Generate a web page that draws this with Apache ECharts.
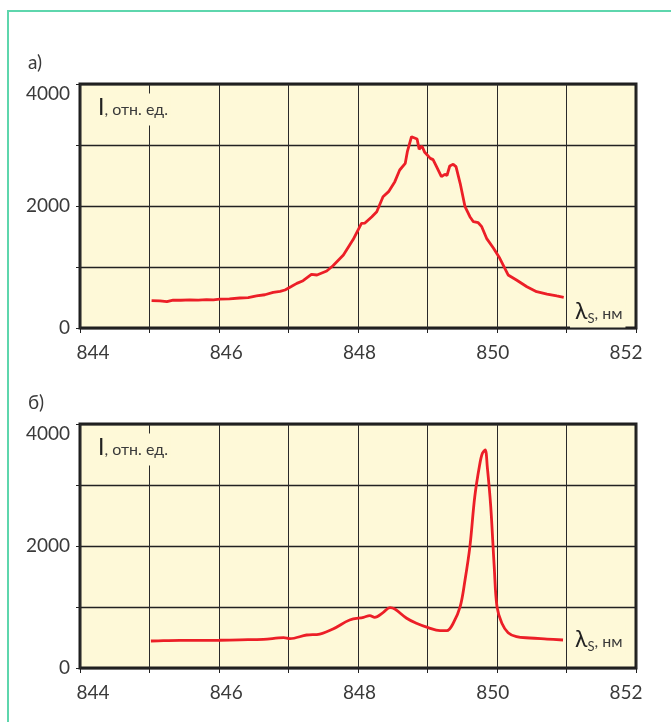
<!DOCTYPE html>
<html>
<head>
<meta charset="utf-8">
<script src="https://cdn.jsdelivr.net/npm/echarts@6/dist/echarts.min.js"></script>
<style>
  html, body { margin: 0; padding: 0; background: #ffffff; }
  #frame { position: absolute; left: 7px; top: 10px; width: 664px; height: 712px;
           border-left: 2px solid #5ed6ad; border-top: 2px solid #5ed6ad; }
  #chart { position: absolute; left: 0; top: 0; width: 671px; height: 722px; }
</style>
</head>
<body>
<div id="frame"></div>
<div id="chart"></div>
<script>
// ---- data: panel a ----
const lambdaA = [845.03, 845.15, 845.25, 845.34, 845.45, 845.58, 845.70, 845.82, 845.92, 846.01,
  846.15, 846.30, 846.42, 846.54, 846.66, 846.78, 846.88, 846.95, 847.04, 847.12,
  847.21, 847.33, 847.41, 847.55, 847.64, 847.79, 847.93, 848.05, 848.10, 848.20,
  848.27, 848.36, 848.44, 848.53, 848.60, 848.68, 848.71, 848.77, 848.85, 848.88,
  848.92, 848.96, 849.04, 849.08, 849.13, 849.20, 849.25, 849.28, 849.32, 849.37,
  849.41, 849.47, 849.54, 849.61, 849.66, 849.73, 849.78, 849.85, 849.95, 850.04,
  850.16, 850.28, 850.43, 850.57, 850.72, 850.86, 850.96];
const intensityA = [450, 445, 432, 458, 455, 462, 458, 465, 462, 472,
  478, 492, 498, 525, 545, 585, 600, 623, 680, 732,
  775, 880, 869, 934, 1020, 1197, 1450, 1716, 1720, 1825,
  1907, 2153, 2235, 2399, 2590, 2700, 2890, 3136, 3098, 2929,
  2984, 2880, 2781, 2760, 2645, 2480, 2520, 2500, 2656, 2683,
  2645, 2372, 1989, 1825, 1743, 1726, 1661, 1470, 1307, 1143,
  869, 787, 677, 595, 557, 525, 503];

// ---- data: panel b ----
const lambdaB = [845.02, 845.20, 845.44, 845.70, 846.01, 846.30, 846.64, 846.93, 847.02, 847.26,
  847.45, 847.64, 847.88, 848.08, 848.17, 848.24, 848.36, 848.46, 848.53, 848.70,
  848.84, 849.01, 849.18, 849.28, 849.37, 849.47, 849.54, 849.61, 849.68, 849.75,
  849.79, 849.83, 849.86, 849.91, 849.96, 850.00, 850.07, 850.16, 850.28, 850.47,
  850.72, 850.95];
const intensityB = [443, 450, 454, 452, 455, 462, 470, 497, 481, 541,
  557, 639, 787, 831, 858, 831, 907, 990, 967, 815,
  733, 661, 612, 612, 733, 1005, 1443, 1989, 2808, 3328,
  3519, 3574, 3300, 2645, 1661, 1005, 733, 579, 513, 492,
  475, 459];

// ---- axes / labels ----
const xTickLabels = [844, 846, 848, 850, 852];
const yTickLabels = [0, 2000, 4000];
const panelLabels = ['а)', 'б)'];
const yAxisTitle = ['I', ', отн. ед.'];
const xAxisTitle = ['λ', 'S', ', нм'];

const FONT = 'Lato, "Open Sans", sans-serif';
const FW = 'normal';
const TXT = '#3a3a3a';
const BG = '#fef9d8';
const RED = '#ec1f27';

const chart = echarts.init(document.getElementById('chart'), null, { renderer: 'canvas' });

const tops = [84, 424];

function grid(top) {
  return { left: 80, top: top, width: 556, height: 244, show: true,
           backgroundColor: BG, borderColor: '#1e1e1e', borderWidth: 3, z: 0 };
}
function plain(v) { return String(v); }

const xAxes = [], yAxes = [], series = [], titles = [];
[0, 1].forEach(function (g) {
  xAxes.push({
    type: 'value', gridIndex: g, position: 'bottom', min: 844, max: 852, interval: 1,
    axisLine: { show: false },
    axisTick: { show: true, length: 5, lineStyle: { color: '#222', width: 1 } },
    axisLabel: { show: false },
    splitLine: { show: true, lineStyle: { color: '#2a2a2a', width: 1 } }
  });
  xAxes.push({
    type: 'value', gridIndex: g, position: 'bottom', offset: 0, min: 843.805, max: 852.15,
    axisLine: { show: false, onZero: false }, axisTick: { show: false }, splitLine: { show: false },
    axisLabel: { show: true, customValues: xTickLabels, margin: 15, formatter: plain,
                 color: TXT, fontSize: 19, fontWeight: FW, fontFamily: FONT }
  });
  yAxes.push({
    type: 'value', gridIndex: g, min: 0, max: 4000, interval: 1000,
    axisLine: { show: false },
    axisTick: { show: true, length: 4, lineStyle: { color: '#222', width: 1 } },
    splitLine: { show: true, lineStyle: { color: '#222', width: 1.4 } },
    axisLabel: { show: true, customValues: yTickLabels, margin: 10, color: TXT, formatter: plain,
                 fontSize: 19, fontWeight: FW, fontFamily: FONT, verticalAlignMaxLabel: 'top' }
  });
  titles.push({
    text: panelLabels[g], left: 23, top: tops[g] - 36,
    textStyle: { color: TXT, fontSize: 19, fontWeight: FW, fontFamily: FONT }
  });
  titles.push({
    text: '{i|' + yAxisTitle[0] + '}{s|' + yAxisTitle[1] + '}',
    left: 95, top: tops[g] + 8, padding: [3, 3, 6, 3], backgroundColor: BG,
    textStyle: { fontWeight: FW, rich: {
      i: { fontSize: 23, color: '#222', fontFamily: FONT, fontWeight: FW, lineHeight: 26 },
      s: { fontSize: 16, color: TXT, fontFamily: FONT, fontWeight: FW, lineHeight: 26, padding: [4, 0, 0, 0] }
    } }
  });
  titles.push({
    text: '{l|' + xAxisTitle[0] + '}{sub|' + xAxisTitle[1] + '}{s|' + xAxisTitle[2] + '}',
    left: 570, top: tops[g] + (g === 0 ? 213 : 201), padding: [2, 3, 2, 5], backgroundColor: BG,
    textStyle: { fontWeight: FW, rich: {
      l: { fontSize: 23, color: '#222', fontFamily: FONT, fontWeight: FW, lineHeight: 26 },
      sub: { fontSize: 13, color: TXT, fontFamily: FONT, fontWeight: FW, lineHeight: 14, padding: [14, 0, 0, 0] },
      s: { fontSize: 16, color: TXT, fontFamily: FONT, fontWeight: FW, lineHeight: 26, padding: [4, 0, 0, 0] }
    } }
  });
});

series.push({
  type: 'line', xAxisIndex: 0, yAxisIndex: 0, showSymbol: false, smooth: false,
  lineStyle: { color: RED, width: 2.8 }, z: 3,
  data: lambdaA.map(function (x, i) { return [x, intensityA[i]]; })
});
series.push({
  type: 'line', xAxisIndex: 2, yAxisIndex: 1, showSymbol: false, smooth: 0.35,
  lineStyle: { color: RED, width: 2.8 }, z: 3,
  data: lambdaB.map(function (x, i) { return [x, intensityB[i]]; })
});

chart.setOption({
  animation: false,
  backgroundColor: 'transparent',
  title: titles,
  grid: [grid(tops[0]), grid(tops[1])],
  xAxis: xAxes,
  yAxis: yAxes,
  series: series
});
</script>
</body>
</html>
